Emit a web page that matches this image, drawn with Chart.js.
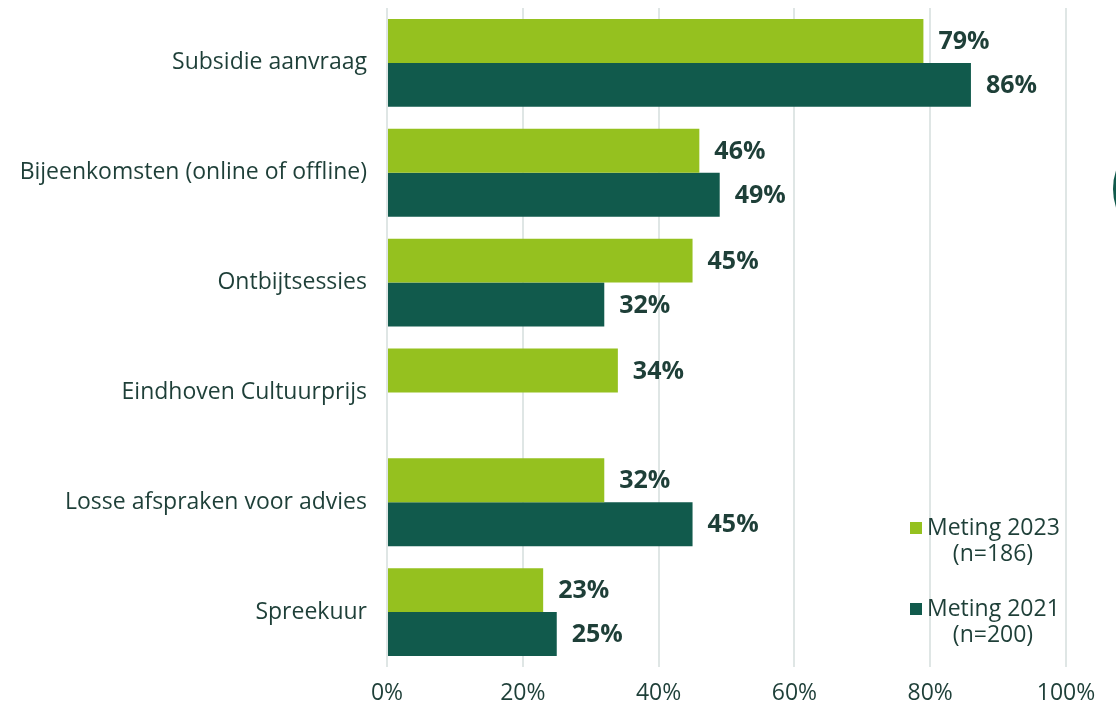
<!DOCTYPE html>
<html>
<head>
<meta charset="utf-8">
<script src="https://cdn.jsdelivr.net/npm/chart.js@4"></script>
<style>
  html, body { margin: 0; padding: 0; background: #fff; }
  #wrap { width: 1116px; height: 704px; position: relative; }
</style>
</head>
<body>
<div id="wrap"><canvas id="chart"></canvas></div>
<script>
const categories = [
  'Subsidie aanvraag',
  'Bijeenkomsten (online of offline)',
  'Ontbijtsessies',
  'Eindhoven Cultuurprijs',
  'Losse afspraken voor advies',
  'Spreekuur'
];
const meting2023 = [79, 46, 45, 34, 32, 23];
const meting2021 = [86, 49, 32, null, 45, 25];
const seriesNames = ['Meting 2023', 'Meting 2021'];
const seriesNotes = ['(n=186)', '(n=200)'];
const xTicks = [0, 20, 40, 60, 80, 100];

const textColor = '#1e3f38';
const fontFamily = '"Open Sans", "Noto Sans", sans-serif';

// value labels next to each bar
const barLabels = {
  id: 'barLabels',
  afterDatasetsDraw(chart) {
    const ctx = chart.ctx;
    ctx.save();
    ctx.font = 'bold 25px ' + fontFamily;
    ctx.fillStyle = textColor;
    ctx.textBaseline = 'middle';
    ctx.textAlign = 'left';
    chart.data.datasets.forEach((ds, i) => {
      chart.getDatasetMeta(i).data.forEach((bar, j) => {
        if (ds.data[j] == null) return;
        ctx.fillText(ds.data[j] + '%', bar.x + 15, bar.y + 1);
      });
    });
    ctx.restore();
  }
};

// legend in the lower right corner, two lines per entry
const sideLegend = {
  id: 'sideLegend',
  afterDraw(chart) {
    const ctx = chart.ctx;
    ctx.save();
    ctx.font = '23px ' + fontFamily;
    ctx.textBaseline = 'middle';
    const tops = [528, 609];
    chart.data.datasets.forEach((ds, i) => {
      const y = tops[i];
      ctx.fillStyle = ds.backgroundColor;
      ctx.fillRect(910, y - 6, 12, 12);
      ctx.fillStyle = textColor;
      ctx.textAlign = 'left';
      ctx.fillText(seriesNames[i], 927, y);
      ctx.textAlign = 'center';
      ctx.fillText(seriesNotes[i], 993, y + 26);
    });
    // partial round shape at the right edge
    ctx.fillStyle = '#115a4c';
    ctx.beginPath();
    ctx.arc(1171, 189, 58, 0, Math.PI * 2);
    ctx.fill();
    ctx.restore();
  }
};

new Chart(document.getElementById('chart'), {
  type: 'bar',
  data: {
    labels: categories,
    datasets: [
      {
        label: seriesNames[0],
        data: meting2023,
        backgroundColor: '#95c11f',
        categoryPercentage: 0.8,
        barPercentage: 1
      },
      {
        label: seriesNames[1],
        data: meting2021,
        backgroundColor: '#115a4c',
        categoryPercentage: 0.8,
        barPercentage: 1
      }
    ]
  },
  options: {
    indexAxis: 'y',
    responsive: true,
    maintainAspectRatio: false,
    animation: false,
    layout: { padding: { top: 8, right: 50, left: 0, bottom: 0 } },
    plugins: {
      legend: { display: false },
      tooltip: { enabled: false }
    },
    scales: {
      x: {
        min: 0,
        max: 100,
        afterFit(scale) { scale.height = 37; },
        afterBuildTicks(scale) { scale.ticks = xTicks.map(v => ({ value: v })); },
        grid: { color: '#dfe6e5', lineWidth: 2, drawTicks: false },
        border: { display: false },
        ticks: {
          padding: 13,
          color: textColor,
          font: { family: fontFamily, size: 23 },
          callback: v => v + '%'
        }
      },
      y: {
        afterFit(scale) {
          scale.width = 387;
          scale.paddingTop = 0;
          scale.paddingBottom = 0;
        },
        grid: { display: false, drawTicks: false },
        border: { display: false },
        ticks: {
          padding: 20,
          color: textColor,
          font: { family: fontFamily, size: 23 }
        }
      }
    }
  },
  plugins: [barLabels, sideLegend]
});
</script>
</body>
</html>
